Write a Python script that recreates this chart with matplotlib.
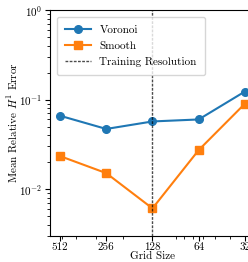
import matplotlib
matplotlib.use("Agg")
import matplotlib.pyplot as plt
from matplotlib.ticker import NullFormatter, FixedLocator, FixedFormatter

plt.rcParams['font.family'] = 'serif'
plt.rcParams['font.serif'] = ['cmr10', 'DejaVu Serif']
plt.rcParams['mathtext.fontset'] = 'cm'
plt.rcParams['axes.formatter.use_mathtext'] = True
plt.rcParams['axes.unicode_minus'] = False

grid_sizes = [512, 256, 128, 64, 32]
tick_labels = ['512', '256', '128', '64', '32']
voronoi = [0.066, 0.047, 0.057, 0.060, 0.123]
smooth = [0.0234, 0.0151, 0.0061, 0.0273, 0.090]
training_res = 128

fig = plt.figure(figsize=(2.48, 2.62), dpi=100)
ax = fig.add_axes([50/248, 26/262, 205/248, 226/262])

ax.plot(grid_sizes, voronoi, '-o', color='#1f77b4', lw=1.5, ms=5.5, label='Voronoi')
ax.plot(grid_sizes, smooth, '-s', color='#ff7f0e', lw=1.5, ms=5.5, label='Smooth')
ax.axvline(training_res, color='black', ls='--', lw=1.0, dashes=(2, 1), alpha=0.7,
           label='Training Resolution')

ax.set_xscale('log')
ax.set_yscale('log')
ax.set_xlim(595, 27.5)
ax.set_ylim(3.0e-3, 1.0)
ax.xaxis.set_major_locator(FixedLocator(grid_sizes))
ax.xaxis.set_major_formatter(FixedFormatter(tick_labels))
ax.xaxis.set_minor_formatter(NullFormatter())

ax.tick_params(labelsize=8, pad=2)
ax.tick_params(axis='x', pad=1.5)
ax.set_xlabel('Grid Size', fontsize=8, labelpad=-0.5)
ax.set_ylabel('Mean Relative $H^1$ Error', fontsize=8)
ax.yaxis.set_label_coords(-0.145, 0.5)
ax.legend(loc='upper left', fontsize=8, handlelength=2.3, borderpad=0.75,
          labelspacing=0.55, handletextpad=0.8, borderaxespad=0.6)

fig.savefig('out.png', dpi=100)
